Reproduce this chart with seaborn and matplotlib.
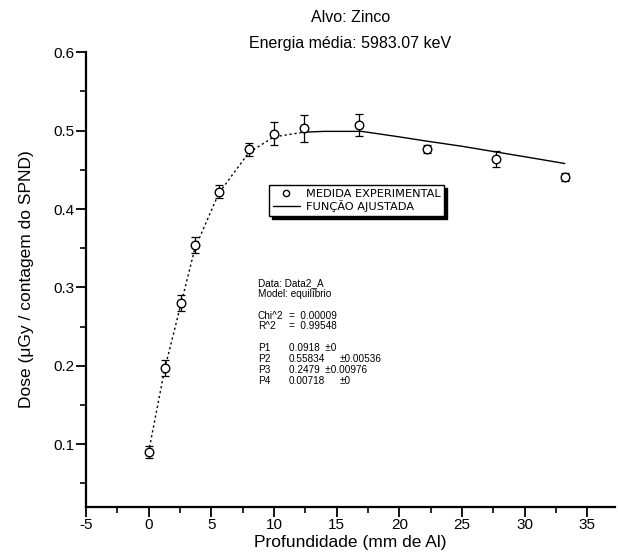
import matplotlib
matplotlib.use("Agg")
import matplotlib.pyplot as plt
import seaborn as sns
import pandas as pd
from matplotlib.lines import Line2D
from matplotlib.ticker import MultipleLocator

# Measured dose per SPND count versus aluminium depth
profundidade = [0.0, 1.3, 2.6, 3.7, 5.6, 8.0, 10.0, 12.4, 16.8, 22.2, 27.7, 33.2]
dose = [0.090, 0.197, 0.280, 0.354, 0.422, 0.476, 0.496, 0.503, 0.507, 0.477, 0.464, 0.441]
erro = [0.008, 0.010, 0.010, 0.010, 0.008, 0.008, 0.015, 0.017, 0.014, 0.005, 0.010, 0.005]

# Fitted build-up / equilibrium curve
fit_x = [0.0, 1.3, 2.6, 3.7, 5.6, 8.0, 10.0, 12.4, 14.0, 17.0, 20.0, 22.0, 25.0, 28.0, 31.0, 33.2]
fit_y = [0.090, 0.197, 0.280, 0.350, 0.420, 0.472, 0.492, 0.498, 0.499, 0.499, 0.492, 0.487, 0.480, 0.472, 0.464, 0.458]

x_ticks = [-5, 0, 5, 10, 15, 20, 25, 30, 35]
x_tick_labels = ["-5", "0", "5", "10", "15", "20", "25", "30", "35"]
y_ticks = [0.1, 0.2, 0.3, 0.4, 0.5, 0.6]

fit_report = [
    ("Data: Data2_A", "", ""),
    ("Model: equilíbrio", "", ""),
    ("", "", ""),
    ("Chi^2", "=  0.00009", ""),
    ("R^2", "=  0.99548", ""),
    ("", "", ""),
    ("P1", "0.0918  ±0", ""),
    ("P2", "0.55834", "±0.00536"),
    ("P3", "0.2479  ±0.00976", ""),
    ("P4", "0.00718", "±0"),
]

sns.set_style("ticks")
plt.rcParams["font.family"] = ["Liberation Sans", "DejaVu Sans"]
plt.rcParams["axes.linewidth"] = 1.6
for key in ("text.color", "axes.labelcolor", "xtick.color", "ytick.color", "axes.edgecolor"):
    plt.rcParams[key] = "black"

fig = plt.figure(figsize=(6.18, 5.55), dpi=100)
ax = fig.add_axes([0.139, 0.0865, 0.856, 0.8195])

meas = pd.DataFrame({"x": profundidade, "y": dose})
fit = pd.DataFrame({"x": fit_x, "y": fit_y})

rise = fit[fit["x"] <= 12.4]
plateau = fit[fit["x"] >= 12.4]
sns.lineplot(data=rise, x="x", y="y", ax=ax, color="black", lw=1.0,
             linestyle=(0, (1.6, 2.0)), sort=False)
sns.lineplot(data=plateau, x="x", y="y", ax=ax, color="black", lw=1.0, sort=False)

ax.errorbar(profundidade, dose, yerr=erro, fmt="none", ecolor="black",
            elinewidth=0.9, capsize=3, capthick=0.9)
sns.scatterplot(data=meas, x="x", y="y", ax=ax, marker="o", s=38,
                facecolor="white", edgecolor="black", linewidth=1.0, zorder=5)

ax.set_xlim(-5, 37.2)
ax.set_ylim(0.02, 0.6)
ax.set_xticks(x_ticks)
ax.set_xticklabels(x_tick_labels)
ax.set_yticks(y_ticks)
ax.xaxis.set_minor_locator(MultipleLocator(2.5))
ax.yaxis.set_minor_locator(MultipleLocator(0.05))
ax.tick_params(which="major", length=7, width=1.3, labelsize=11, direction="out", pad=1)
ax.tick_params(which="minor", length=4, width=1.2, direction="out")
sns.despine(ax=ax)

ax.set_xlabel("Profundidade (mm de Al)", fontsize=12.5, labelpad=2)
ax.set_ylabel("Dose (μGy / contagem do SPND)", fontsize=12.5, labelpad=14)

fig.text(0.567, 0.968, "Alvo: Zinco", ha="center", va="center", fontsize=11.5)
fig.text(0.567, 0.922, "Energia média: 5983.07 keV", ha="center", va="center", fontsize=11.5)

handles = [
    Line2D([], [], marker="o", linestyle="none", markerfacecolor="white",
           markeredgecolor="black", markersize=4.5),
    Line2D([], [], color="black", lw=1.0),
]
leg = ax.legend(handles, ["MEDIDA EXPERIMENTAL", "FUNÇÃO AJUSTADA"],
                loc="upper left", bbox_to_anchor=(0.335, 0.72),
                prop={"family": "DejaVu Sans", "size": 8.2},
                frameon=True, fancybox=False, handlelength=2.4, handletextpad=0.5,
                labelspacing=0.1, borderpad=0.35,
                shadow={"ox": 2, "oy": -2, "color": "black", "alpha": 1})
leg.get_frame().set_edgecolor("black")
leg.get_frame().set_linewidth(1.0)

y0 = 0.493
dy = 0.024
for i, (a, b, c) in enumerate(fit_report):
    yy = y0 - i * dy
    if a:
        ax.text(0.325, yy, a, transform=ax.transAxes, fontsize=7.2, va="center")
    if b:
        ax.text(0.384, yy, b, transform=ax.transAxes, fontsize=7.2, va="center")
    if c:
        ax.text(0.480, yy, c, transform=ax.transAxes, fontsize=7.2, va="center")

fig.savefig("out.png", dpi=100, facecolor="white")
